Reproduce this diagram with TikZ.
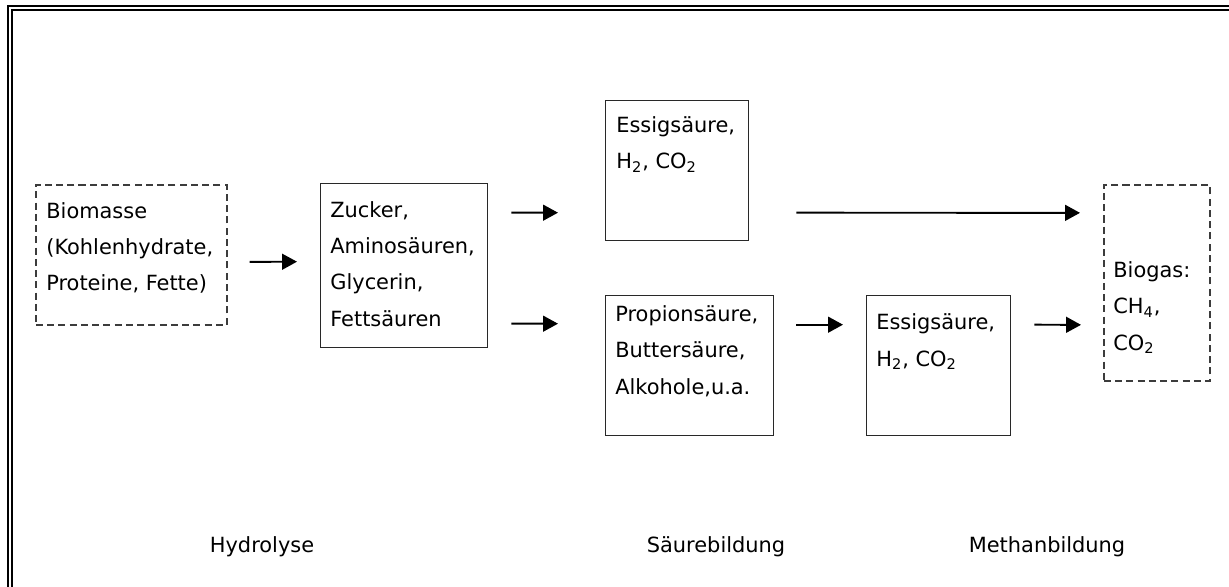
\documentclass[tikz,border=0pt]{standalone}
\usepackage{fontspec}
\usepackage{xcolor}
\usepackage{tikz}
\usetikzlibrary{arrows.meta, positioning, calc}
\setmainfont{DejaVu Sans}
\definecolor{darkline}{RGB}{40,40,40}
\definecolor{dashline}{RGB}{60,60,60}
\newcommand{\sub}[1]{\textsubscript{#1}}

\begin{document}
\begin{tikzpicture}[x=0.02cm, y=-0.02cm,
    box/.style={draw=darkline, line width=0.8pt, inner sep=0pt, anchor=north west},
    dashbox/.style={box, draw=dashline, line width=1pt, dash pattern=on 4pt off 2.4pt},
    txt/.style={anchor=base west, inner sep=0pt, align=left,
      font=\fontsize{11.9pt}{20.5pt}\selectfont},
    arr/.style={line width=1.1pt, -{Triangle[length=8.5pt, width=9pt]}}]
  \useasboundingbox (0,0) rectangle (1229,587);

  % double frame (top and left only)
  \draw[line width=1.7pt] (8,587) -- (8,6) -- (1229,6);
  \draw[line width=0.8pt] (12,587) -- (12,10) -- (1229,10);

  % boxes
  \node[dashbox, minimum width=3.82cm, minimum height=2.80cm] (bio) at (35,184) {};
  \node[box, minimum width=3.34cm, minimum height=3.28cm] (zucker) at (320,183) {};
  \node[box, minimum width=2.86cm, minimum height=2.80cm] (essig) at (605,100) {};
  \node[box, minimum width=3.36cm, minimum height=2.80cm] (propion) at (605,295) {};
  \node[box, minimum width=2.88cm, minimum height=2.80cm] (essigb) at (866,295) {};
  \node[dashbox, minimum width=2.12cm, minimum height=3.92cm] (biogas) at (1103,184) {};

  % box texts (base = last line)
  \node[txt] (biotxt) at ($(bio.north west)+(11,107)$)
    {Biomasse\\(Kohlenhydrate,\\Proteine, Fette)};
  \node[txt] (zuckertxt) at ($(zucker.north west)+(10,143)$)
    {Zucker,\\Aminosäuren,\\Glycerin,\\Fettsäuren};
  \node[txt] (essigtxt) at ($(essig.north west)+(11,69)$)
    {Essigsäure,\\H\sub{2}, CO\sub{2}};
  \node[txt] (propiontxt) at ($(propion.north west)+(10,99)$)
    {Propionsäure,\\Buttersäure,\\Alkohole,u.a.};
  \node[txt] (essigbtxt) at ($(essigb.north west)+(10,71)$)
    {Essigsäure,\\H\sub{2}, CO\sub{2}};
  \node[txt] (biogastxt) at ($(biogas.north west)+(10,166)$)
    {Biogas:\\CH\sub{4},\\CO\sub{2}};

  % arrows
  \draw[arr] ($(bio.east)+(22,7)$) -- ($(zucker.west)+(-23,-4)$);
  \draw[arr] ($(zucker.east)+(23,-53)$) -- ($(essig.west)+(-47,42)$);
  \draw[arr] ($(zucker.east)+(23,58)$) -- ($(propion.west)+(-47,-42)$);
  \draw[arr] ($(essig.east)+(47,42)$) -- ($(biogas.west)+(-23,-70)$);
  \draw[arr] ($(propion.east)+(22,-41)$) -- ($(essigb.west)+(-23,-41)$);
  \draw[arr] ($(essigb.east)+(23,-41)$) -- ($(biogas.west)+(-22,42)$);

  % phase labels
  \node[txt, anchor=base] (hydro) at (262,552) {Hydrolyse};
  \node[txt, anchor=base] (saeure) at (716,552) {Säurebildung};
  \node[txt, anchor=base] (methan) at (1047,552) {Methanbildung};
\end{tikzpicture}
\end{document}
